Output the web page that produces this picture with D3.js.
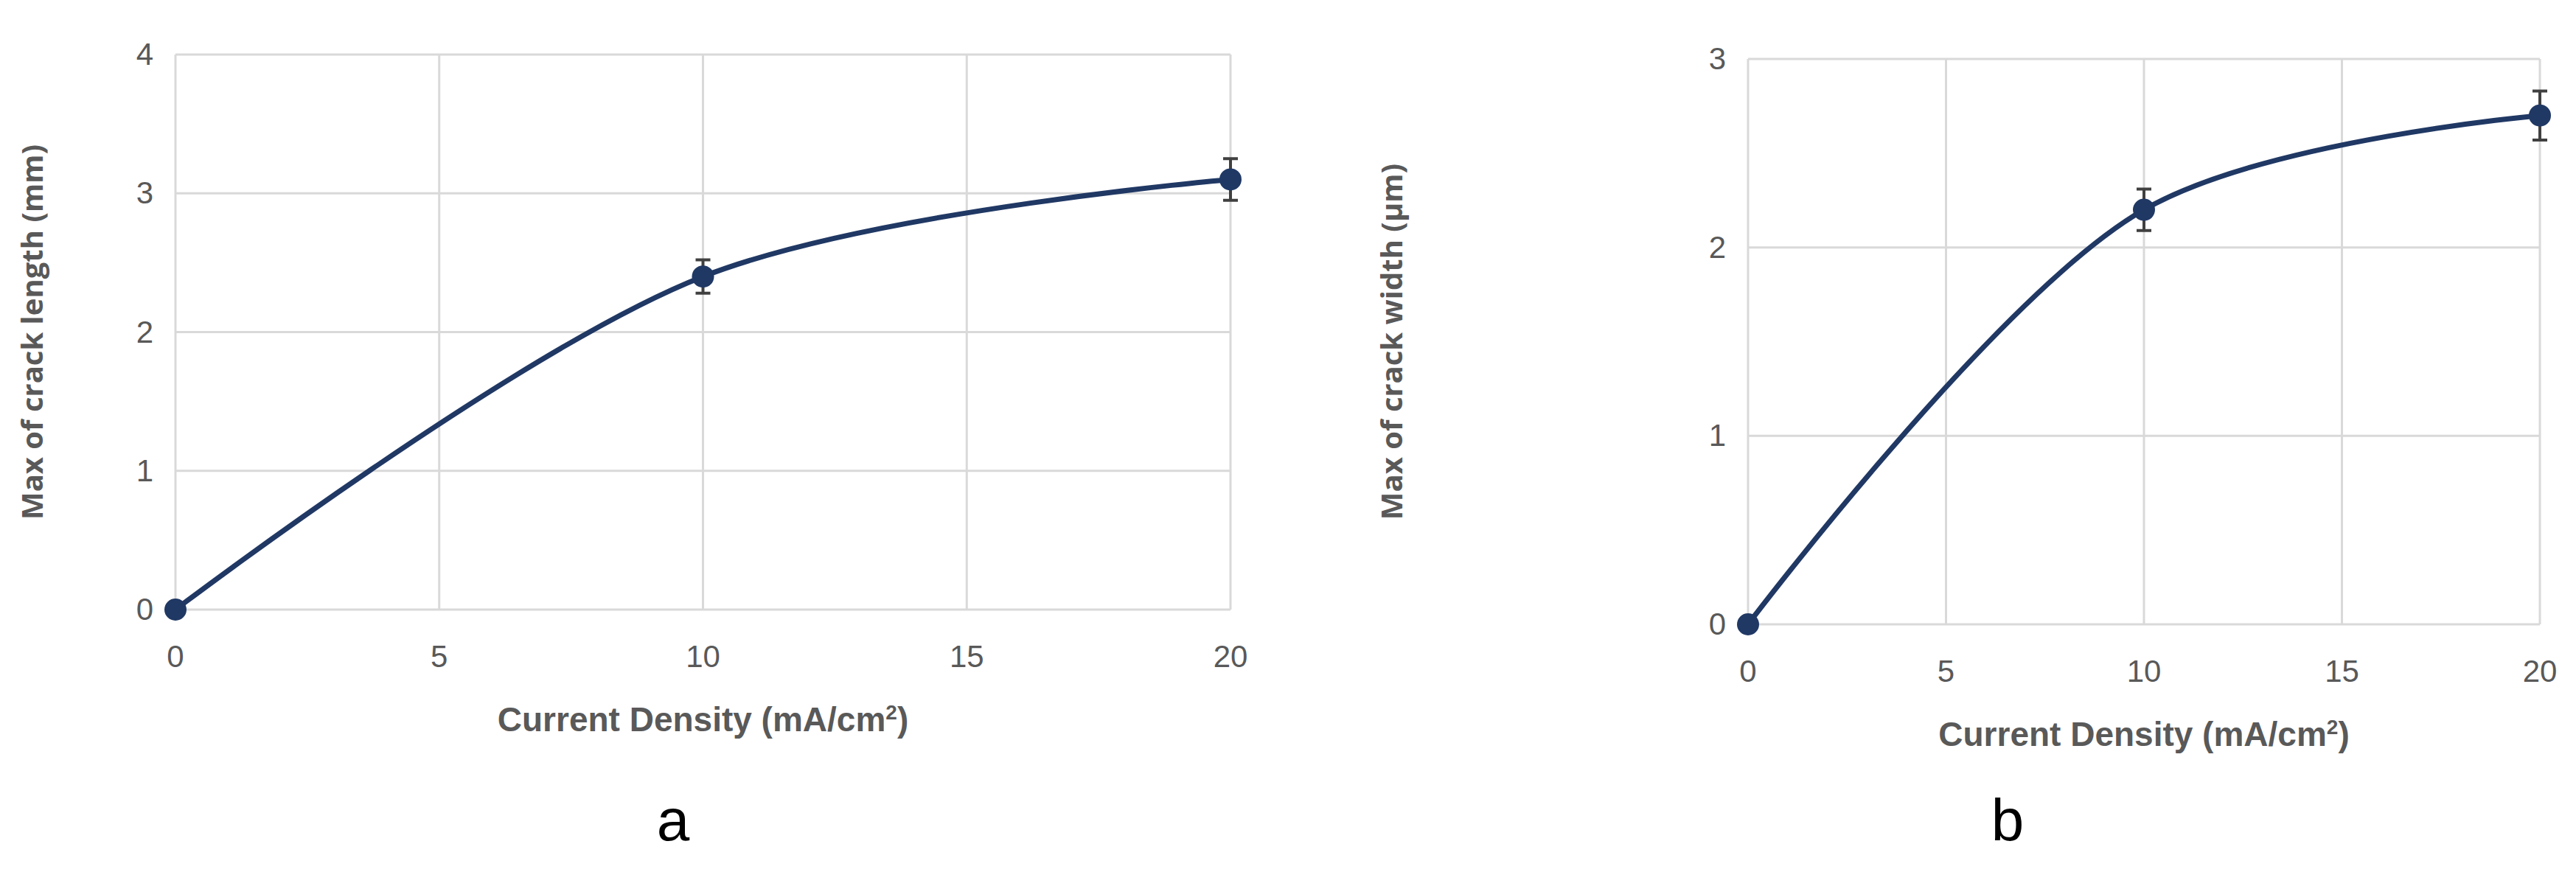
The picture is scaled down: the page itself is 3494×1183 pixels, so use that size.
<!DOCTYPE html>
<html><head><meta charset="utf-8">
<script src="https://cdn.jsdelivr.net/npm/d3@7"></script>
<style>body{margin:0;background:#fff}</style>
</head><body><div id="chart"></div>
<script>
var xValues = [0, 10, 20];
var lengthValues = [0, 2.4, 3.1];
var lengthErrors = [0, 0.12, 0.15];
var widthValues = [0, 2.2, 2.7];
var widthErrors = [0, 0.11, 0.13];
var xTicks = [0, 5, 10, 15, 20];

var svg = d3.select("#chart").append("svg").attr("width", 3494).attr("height", 1183);

function panel(o) {
  var x = d3.scaleLinear().domain([0, 20]).range([o.left, o.right]);
  var y = d3.scaleLinear().domain([0, o.ymax]).range([o.bottom, o.top]);
  var g = svg.append("g");
  var yTicks = d3.range(0, o.ymax + 1);

  g.selectAll(".hg").data(yTicks).enter().append("line")
    .attr("x1", o.left).attr("x2", o.right)
    .attr("y1", function(d) { return y(d); }).attr("y2", function(d) { return y(d); })
    .attr("stroke", "#d9d9d9").attr("stroke-width", 3);
  g.selectAll(".vg").data(xTicks).enter().append("line")
    .attr("y1", o.top).attr("y2", o.bottom)
    .attr("x1", function(d) { return x(d); }).attr("x2", function(d) { return x(d); })
    .attr("stroke", "#d9d9d9").attr("stroke-width", 3);

  g.selectAll(".yt").data(yTicks).enter().append("text")
    .attr("x", o.left - 30).attr("y", function(d) { return y(d) + 14; })
    .attr("text-anchor", "end").attr("font-family", "Liberation Sans Narrow, Arial Narrow, sans-serif")
    .attr("font-size", 42).attr("fill", "#595959").text(function(d) { return d; });
  g.selectAll(".xt").data(xTicks).enter().append("text")
    .attr("x", function(d) { return x(d); }).attr("y", o.bottom + 78)
    .attr("text-anchor", "middle").attr("font-family", "Liberation Sans Narrow, Arial Narrow, sans-serif")
    .attr("font-size", 42).attr("fill", "#595959").text(function(d) { return d; });

  var pts = xValues.map(function(d, i) { return [d, o.values[i], o.errors[i]]; });
  var line = d3.line().x(function(d) { return x(d[0]); }).y(function(d) { return y(d[1]); })
    .curve(d3.curveCatmullRom.alpha(0.5));
  g.append("path").datum(pts).attr("d", line).attr("fill", "none")
    .attr("stroke", "#203864").attr("stroke-width", 7);

  var eb = pts.filter(function(d) { return d[2] > 0; });
  g.selectAll(".eb").data(eb).enter().append("path")
    .attr("d", function(d) {
      var cx = x(d[0]), y1 = y(d[1] + d[2]), y2 = y(d[1] - d[2]);
      return "M" + (cx - 10) + "," + y1 + "H" + (cx + 10) + "M" + cx + "," + y1 + "V" + y2 + "M" + (cx - 10) + "," + y2 + "H" + (cx + 10);
    })
    .attr("stroke", "#404040").attr("stroke-width", 4).attr("fill", "none");
  g.selectAll(".pt").data(pts).enter().append("circle")
    .attr("cx", function(d) { return x(d[0]); }).attr("cy", function(d) { return y(d[1]); })
    .attr("r", 15).attr("fill", "#203864");

  g.append("text").attr("transform", "translate(" + o.ylabX + "," + ((o.top + o.bottom) / 2) + ") rotate(-90)")
    .attr("text-anchor", "middle").attr("font-family", "Open Sans, sans-serif").attr("font-weight", "bold")
    .attr("font-size", 40).attr("fill", "#595959").text(o.ylabel);
  var xt = g.append("text").attr("x", (o.left + o.right) / 2).attr("y", o.bottom + 165)
    .attr("text-anchor", "middle").attr("font-family", "Liberation Sans Narrow, Arial Narrow, sans-serif").attr("font-weight", "bold")
    .attr("font-size", 46).attr("fill", "#595959");
  xt.append("tspan").text("Current Density (mA/cm");
  xt.append("tspan").attr("dy", -16).attr("font-size", 28).text("2");
  xt.append("tspan").attr("dy", 16).text(")");
  g.append("text").attr("x", o.letterX).attr("y", 1140)
    .attr("text-anchor", "middle").attr("font-family", "Liberation Sans, Arial, sans-serif")
    .attr("font-size", 80).attr("fill", "#000").text(o.letter);
}

panel({left: 238, right: 1669, top: 74, bottom: 827, ymax: 4, values: lengthValues, errors: lengthErrors,
  ylabX: 58, ylabel: "Max of crack length (mm)", letter: "a", letterX: 913});
panel({left: 2371, right: 3445, top: 80, bottom: 847, ymax: 3, values: widthValues, errors: widthErrors,
  ylabX: 1902, ylabel: "Max of crack width (µm)", letter: "b", letterX: 2723});
</script></body></html>
